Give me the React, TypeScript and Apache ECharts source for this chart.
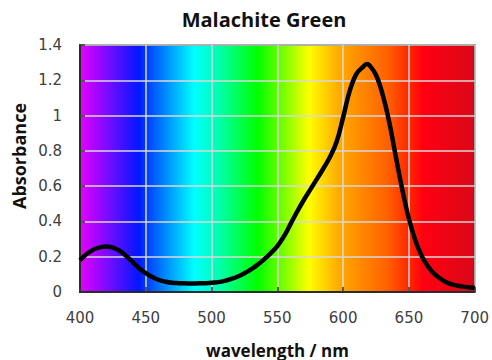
import React, { useEffect, useRef } from "react";
import * as echarts from "echarts";

const wavelengths = [
  400, 405, 410, 415, 420, 425, 430, 435, 440, 445, 450, 455, 460, 465, 470, 475, 480,
  485, 490, 495, 500, 505, 510, 515, 520, 525, 530, 535, 540, 545, 550, 555, 560, 565,
  570, 575, 580, 585, 590, 595, 600, 605, 610, 615, 618, 620, 625, 630, 635, 640, 645,
  650, 655, 660, 665, 670, 675, 680, 685, 690, 695, 700,
];
const absorbance = [
  0.18, 0.215, 0.24, 0.253, 0.258, 0.252, 0.235, 0.205, 0.17, 0.135, 0.107, 0.085, 0.068,
  0.058, 0.052, 0.05, 0.049, 0.048, 0.049, 0.05, 0.052, 0.056, 0.063, 0.074, 0.088, 0.106,
  0.128, 0.155, 0.185, 0.22, 0.26, 0.315, 0.385, 0.455, 0.52, 0.58, 0.64, 0.7, 0.765,
  0.85, 0.99, 1.14, 1.235, 1.275, 1.292, 1.285, 1.23, 1.12, 0.965, 0.77, 0.58, 0.415,
  0.29, 0.2, 0.14, 0.098, 0.07, 0.05, 0.039, 0.032, 0.027, 0.024,
];
const xTicks = { min: 400, max: 700, interval: 50 };
const yTicks = { min: 0, max: 1.4, interval: 0.2 };
const titleText = "Malachite Green";
const xName = "wavelength / nm";
const yName = "Absorbance";

const spectrumStops = [
  { offset: 0.0, color: "#e400ff" },
  { offset: 0.15, color: "#0018ff" },
  { offset: 0.17, color: "#0040ff" },
  { offset: 0.29, color: "#00ffff" },
  { offset: 0.35, color: "#00ffb0" },
  { offset: 0.45, color: "#00ff00" },
  { offset: 0.52, color: "#80ff00" },
  { offset: 0.58, color: "#ffff00" },
  { offset: 0.65, color: "#ffb000" },
  { offset: 0.7, color: "#ff9000" },
  { offset: 0.78, color: "#ff6000" },
  { offset: 0.84, color: "#ff2000" },
  { offset: 0.87, color: "#ff0012" },
  { offset: 1.0, color: "#d80818" },
];

export default function App() {
  const ref = useRef<HTMLDivElement>(null);
  useEffect(() => {
    if (!ref.current) return;
    const chart = echarts.init(ref.current, null, { renderer: "svg" });
    const labelFont = { fontFamily: "DejaVu Sans", fontSize: 15, color: "#404040" };
    chart.setOption({
      animation: false,
      backgroundColor: "#ffffff",
      grid: {
        left: 80,
        right: 16,
        top: 45,
        bottom: 68,
        show: true,
        backgroundColor: new echarts.graphic.LinearGradient(0, 0, 1, 0, spectrumStops),
        borderColor: "#000000",
        borderWidth: 1.5,
      },
      xAxis: {
        type: "value",
        min: xTicks.min,
        max: xTicks.max,
        interval: xTicks.interval,
        axisLine: { lineStyle: { color: "#000", width: 1.5 } },
        axisTick: { show: true, inside: true, length: 5, lineStyle: { color: "#333", width: 1.5 } },
        axisLabel: { ...labelFont, margin: 18 },
        splitLine: { show: true, lineStyle: { color: "#d9d9d9", width: 1.5 } },
      },
      yAxis: {
        type: "value",
        min: yTicks.min,
        max: yTicks.max,
        interval: yTicks.interval,
        axisLine: { show: true, lineStyle: { color: "#000", width: 1.5 } },
        axisTick: { show: true, inside: true, length: 5, lineStyle: { color: "#333", width: 1.5 } },
        axisLabel: { ...labelFont, margin: 18 },
        splitLine: { show: true, lineStyle: { color: "#d9d9d9", width: 1.5 } },
      },
      series: [
        {
          type: "line",
          data: wavelengths.map((w, i) => [w, absorbance[i]]),
          smooth: 0.4,
          showSymbol: false,
          lineStyle: { color: "#000000", width: 4.5 },
          z: 5,
        },
      ],
      graphic: [
        {
          type: "text",
          x: 264,
          y: 19.5,
          style: {
            text: titleText,
            fontFamily: "Open Sans",
            fontWeight: "bold",
            fontSize: 20,
            fill: "#111",
            align: "center",
            verticalAlign: "middle",
          },
        },
        {
          type: "text",
          x: 277.5,
          y: 350,
          style: {
            text: xName,
            fontFamily: "Open Sans",
            fontWeight: "bold",
            fontSize: 17,
            fill: "#111",
            align: "center",
            verticalAlign: "middle",
          },
        },
        {
          type: "text",
          x: 18.5,
          y: 156,
          rotation: Math.PI / 2,
          style: {
            text: yName,
            fontFamily: "Open Sans",
            fontWeight: "bold",
            fontSize: 18,
            fill: "#111",
            align: "center",
            verticalAlign: "middle",
          },
        },
      ],
    });
    return () => chart.dispose();
  }, []);
  return <div ref={ref} style={{ width: 492, height: 360, position: "absolute", left: 0, top: 0 }} />;
}
